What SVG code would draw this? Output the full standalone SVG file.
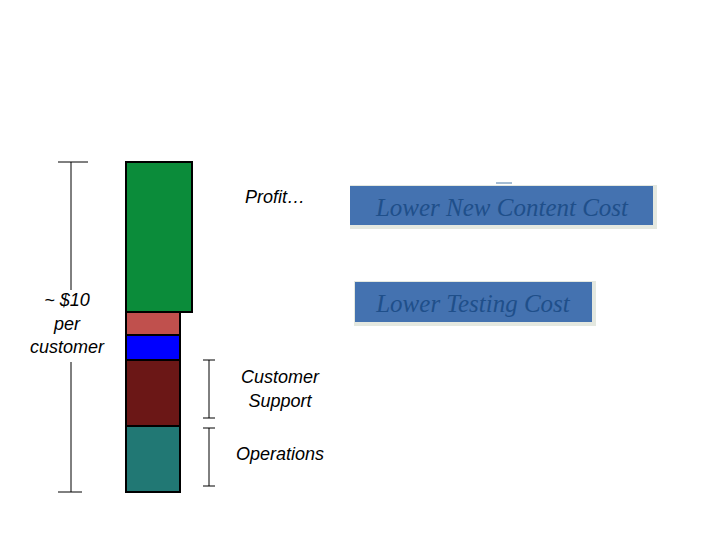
<svg xmlns="http://www.w3.org/2000/svg" width="720" height="540" viewBox="0 0 720 540">
<style>
.bar{stroke:#000;stroke-width:2}
.ln{stroke:#000;stroke-width:1;fill:none}
.lbl{font-family:"Liberation Sans",Arial,sans-serif;font-style:italic;font-size:18px;fill:#000}
.box{fill:#4472b0}
.sh{fill:#e4e8e0}
.bt{font-family:"Liberation Serif","Times New Roman",serif;font-style:italic;font-size:25px;fill:#1f4f8a}
</style>
<rect width="720" height="540" fill="#fff"/>
<g id="bars">
<rect class="bar" x="126" y="312" width="54" height="23" fill="#c0504d"/>
<rect class="bar" x="126" y="335" width="54" height="25" fill="#0000ff"/>
<rect class="bar" x="126" y="360" width="54" height="66" fill="#6b1716"/>
<rect class="bar" x="126" y="426" width="54" height="66" fill="#217874"/>
<rect class="bar" x="126" y="162" width="66" height="150" fill="#0b8c3a"/>
</g>
<g id="connectors">
<path class="ln" d="M58 162H88M71 162V290M71 362V492M58 492H82"/>
<path class="ln" d="M203 360H215M209 360V418M203 418H215M203 428H215M209 428V486M203 486H215"/>
<path d="M496 183H512" stroke="#4a7aa8" stroke-width="1"/>
</g>
<g id="total"><text class="lbl" text-anchor="middle"><tspan x="67" y="306">~ $10</tspan><tspan x="67" y="330">per</tspan><tspan x="67" y="353">customer</tspan></text></g>
<g id="profit"><text class="lbl" x="245" y="203">Profit…</text></g>
<g id="support"><text class="lbl" text-anchor="middle"><tspan x="280" y="383">Customer</tspan><tspan x="280" y="407">Support</tspan></text></g>
<g id="ops"><text class="lbl" x="236" y="460">Operations</text></g>
<g id="content">
<rect class="sh" x="350" y="185" width="307" height="44"/>
<rect class="box" x="350" y="186" width="303" height="39"/>
<text class="bt" x="502" y="216" text-anchor="middle">Lower New Content Cost</text>
</g>
<g id="testing">
<rect class="sh" x="354" y="281" width="242" height="45"/>
<rect class="box" x="355" y="282" width="237" height="40"/>
<text class="bt" x="473" y="312" text-anchor="middle">Lower Testing Cost</text>
</g>
</svg>
